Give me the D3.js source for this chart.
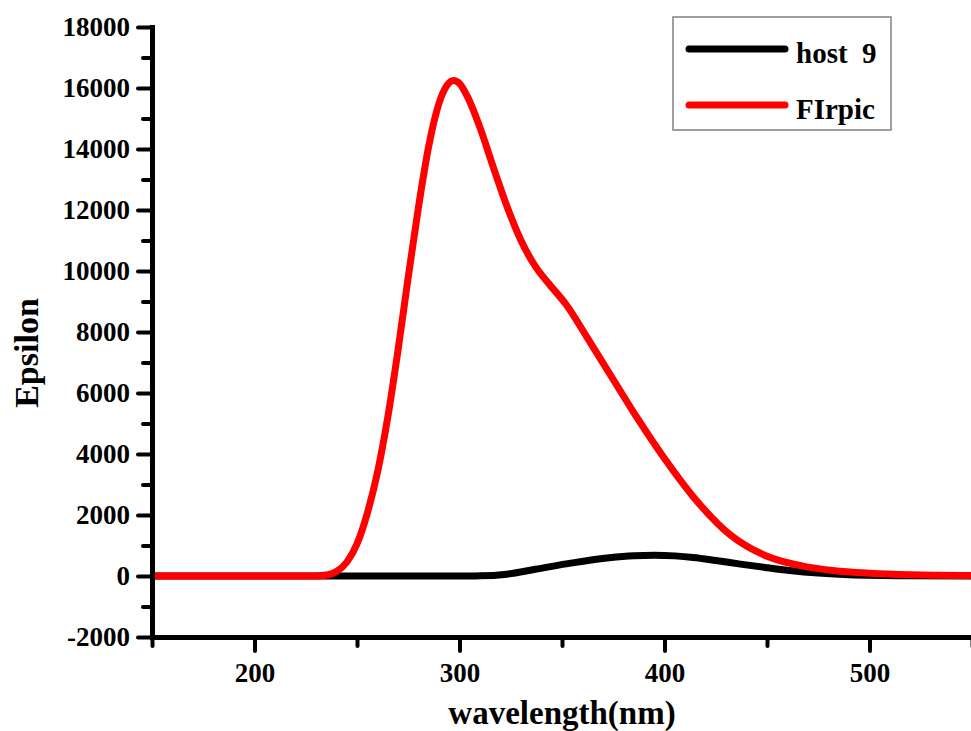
<!DOCTYPE html>
<html>
<head>
<meta charset="utf-8">
<script src="https://cdn.jsdelivr.net/npm/d3@7/dist/d3.min.js"></script>
<style>
  body { margin: 0; background: #fff; }
  svg { display: block; }
</style>
</head>
<body>
<div id="chart"></div>
<script>
var WIDTH = 971;
var HEIGHT = 731;
var FONT = "'Liberation Serif', 'Times New Roman', serif";

// FIrpic absorption
var FIRPIC_WL = [150, 200, 230, 236, 240, 245, 250, 255, 260, 265, 270, 275, 280, 285, 290, 294, 297, 300, 304, 310, 317, 323, 330, 337, 344, 352, 362, 374, 387, 400, 414, 432, 451, 467, 482, 500, 520, 550];
var FIRPIC_EPS = [0, 0, 0, 40, 150, 450, 1050, 2050, 3400, 5200, 7400, 9800, 12100, 14100, 15500, 16100, 16250, 16150, 15700, 14700, 13300, 12150, 11000, 10150, 9550, 8900, 7850, 6550, 5150, 3850, 2600, 1350, 620, 330, 180, 90, 40, 15];

// host 9 absorption
var HOST_WL = [150, 300, 310, 323, 337, 355, 373, 385, 395, 405, 414, 425, 437, 449, 461, 475, 490, 520, 550];
var HOST_EPS = [0, 0, 5, 60, 220, 430, 600, 665, 680, 660, 610, 510, 390, 280, 180, 95, 40, 8, 0];

var X_MAJOR = [200, 300, 400, 500];
var X_MINOR = [150, 250, 350, 450, 550];
var Y_MAJOR = [-2000, 0, 2000, 4000, 6000, 8000, 10000, 12000, 14000, 16000, 18000];
var Y_MINOR = [-1000, 1000, 3000, 5000, 7000, 9000, 11000, 13000, 15000, 17000];

var SERIES = [
  { name: "host  9", color: "#000000", wl: HOST_WL, eps: HOST_EPS },
  { name: "FIrpic", color: "#ff0000", wl: FIRPIC_WL, eps: FIRPIC_EPS }
];

var x = d3.scaleLinear().domain([150, 550]).range([152, 972]);
var y = d3.scaleLinear().domain([-2000, 18000]).range([637, 27]);

var svg = d3.select("#chart").append("svg")
  .attr("width", WIDTH)
  .attr("height", HEIGHT);

svg.append("rect")
  .attr("width", WIDTH)
  .attr("height", HEIGHT)
  .attr("fill", "#fff");

// curves
var line = d3.line()
  .x(function(d) { return x(d[0]); })
  .y(function(d) { return y(d[1]); })
  .curve(d3.curveMonotoneX);

SERIES.forEach(function(s) {
  var pts = s.wl.map(function(w, i) { return [w, s.eps[i]]; });
  svg.append("path")
    .datum(pts)
    .attr("d", line)
    .attr("fill", "none")
    .attr("stroke", s.color)
    .attr("stroke-width", 7)
    .attr("stroke-linejoin", "round");
});

// axes
function styleAxis(g) {
  g.select(".domain")
    .attr("stroke", "#000")
    .attr("stroke-width", 5)
    .attr("stroke-linecap", "square");
  g.selectAll(".tick line")
    .attr("stroke", "#000")
    .attr("stroke-width", 4)
    .attr("stroke-linecap", "round");
  g.selectAll("text")
    .attr("font-family", FONT)
    .attr("font-weight", "bold")
    .attr("font-size", 27)
    .attr("fill", "#000");
}

var xMinor = svg.append("g")
  .attr("transform", "translate(0," + y(-2000) + ")")
  .call(d3.axisBottom(x).tickValues(X_MINOR).tickSize(9).tickFormat(""));
xMinor.select(".domain").remove();
styleAxis(xMinor);

var yMinor = svg.append("g")
  .attr("transform", "translate(" + x(150) + ",0)")
  .call(d3.axisLeft(y).tickValues(Y_MINOR).tickSize(9).tickFormat(""));
yMinor.select(".domain").remove();
styleAxis(yMinor);

var xAxis = svg.append("g")
  .attr("transform", "translate(0," + y(-2000) + ")")
  .call(d3.axisBottom(x).tickValues(X_MAJOR).tickSize(14).tickSizeOuter(0)
    .tickFormat(function(d) { return String(d); }));
styleAxis(xAxis);
xAxis.selectAll("text").attr("y", 26).attr("dy", "0.71em");

var yAxis = svg.append("g")
  .attr("transform", "translate(" + x(150) + ",0)")
  .call(d3.axisLeft(y).tickValues(Y_MAJOR).tickSize(14).tickSizeOuter(0)
    .tickFormat(function(d) { return String(d); }));
styleAxis(yAxis);
yAxis.selectAll("text").attr("x", -22);

// axis titles
svg.append("text")
  .attr("x", 562)
  .attr("y", 724)
  .attr("text-anchor", "middle")
  .attr("font-family", FONT)
  .attr("font-weight", "bold")
  .attr("font-size", 33)
  .text("wavelength(nm)");

svg.append("text")
  .attr("transform", "translate(38,353) rotate(-90)")
  .attr("text-anchor", "middle")
  .attr("font-family", FONT)
  .attr("font-weight", "bold")
  .attr("font-size", 34)
  .text("Epsilon");

// legend
var legend = svg.append("g").attr("transform", "translate(673,17)");
legend.append("rect")
  .attr("width", 218)
  .attr("height", 113)
  .attr("fill", "#fff")
  .attr("stroke", "#808080")
  .attr("stroke-width", 1.5);

SERIES.forEach(function(s, i) {
  var row = legend.append("g").attr("transform", "translate(0," + (32 + i * 56) + ")");
  row.append("line")
    .attr("x1", 16).attr("x2", 112)
    .attr("stroke", s.color)
    .attr("stroke-width", 7)
    .attr("stroke-linecap", "round");
  row.append("text")
    .attr("x", 123)
    .attr("y", 14)
    .attr("font-family", FONT)
    .attr("font-weight", "bold")
    .attr("font-size", 29)
    .attr("xml:space", "preserve")
    .style("white-space", "pre")
    .text(s.name);
});
</script>
</body>
</html>
